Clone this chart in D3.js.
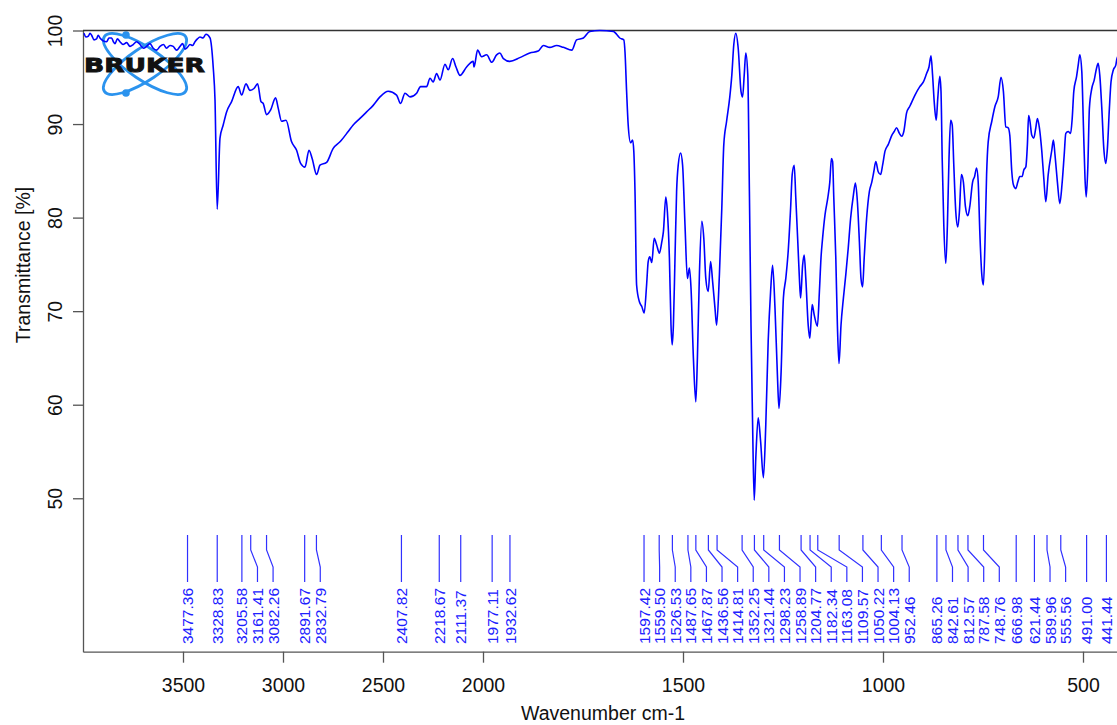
<!DOCTYPE html>
<html>
<head>
<meta charset="utf-8">
<script src="https://cdn.jsdelivr.net/npm/d3@7"></script>
<style>
body { margin: 0; background: #fff; }
svg { display: block; font-family: "Liberation Sans", Arial, sans-serif; }
</style>
</head>
<body>
<div id="content"></div>
<script>
const width = 1117;
const height = 725;

// spectrum: wavenumber (cm-1) and transmittance (%)
const wavenumber = [
  3995, 3985, 3973, 3965, 3957, 3945, 3932, 3924, 3915, 3900, 3882, 3870, 3857, 3848, 3840, 3828,
  3815, 3800, 3782, 3765, 3749, 3732, 3715, 3698, 3682, 3665, 3649, 3632, 3615, 3598, 3582, 3565,
  3549, 3532, 3515, 3502, 3490, 3478, 3465, 3452, 3440, 3428, 3415, 3400, 3385, 3365, 3349, 3340,
  3329, 3315, 3299, 3282, 3257, 3224,
  3207, 3185, 3165, 3145, 3127, 3110, 3099, 3082, 3062, 3037, 3024, 3007, 2985, 2957, 2932, 2912,
  2890, 2870, 2854, 2832, 2815, 2782, 2749, 2715, 2674, 2649, 2615, 2582, 2549, 2515, 2474, 2432,
  2412, 2390, 2365, 2332, 2312, 2282, 2265, 2249, 2232, 2215, 2190, 2174, 2152, 2135, 2115, 2082,
  2049, 2045, 2027, 2007, 1991, 1978, 1966, 1958, 1949, 1933, 1908, 1883, 1862, 1849, 1833, 1816,
  1799, 1778, 1766, 1749, 1733, 1708, 1674, 1666, 1658, 1648, 1645, 1641, 1637, 1631, 1626, 1623,
  1620, 1616, 1609, 1603, 1597, 1591, 1587, 1583, 1578, 1572, 1566, 1559, 1553, 1549, 1543, 1539,
  1534, 1530, 1527, 1524, 1520, 1516, 1512, 1506, 1501, 1495, 1489, 1484, 1480, 1474, 1468, 1464,
  1459, 1453, 1448, 1443, 1437, 1431, 1426, 1420, 1416, 1409, 1403, 1398, 1391, 1383, 1378, 1373,
  1368, 1362, 1355, 1351, 1347, 1343, 1338, 1334, 1330, 1326, 1322, 1318, 1312, 1306, 1299, 1293,
  1287, 1281, 1276, 1270, 1264, 1260, 1255, 1249, 1243, 1237, 1231, 1227, 1222, 1218, 1213, 1209,
  1206, 1201, 1197, 1193, 1187, 1183, 1177, 1172, 1164, 1159, 1155, 1151, 1145, 1138, 1133, 1129,
  1126, 1123, 1118, 1114, 1110, 1105, 1099, 1093, 1087, 1081, 1074, 1069, 1064, 1059, 1055, 1051,
  1047, 1041, 1034, 1028, 1023, 1018, 1012, 1006, 1001, 995, 987, 978, 972, 966, 959, 953,
  948, 941, 933, 920, 908, 899, 891, 885, 880, 876, 872, 867, 863, 858, 855, 852,
  848, 843, 839, 835, 831, 827, 823, 818, 813, 809, 804, 799, 794, 788, 783, 776,
  771, 766, 762, 758, 753, 749, 745, 741, 737, 728, 720, 712, 705, 699, 693, 687,
  683, 678, 674, 668, 663, 658, 652, 648, 643, 639, 636, 633, 628, 623, 618, 614,
  609, 603, 598, 593, 587, 578, 574, 570, 564, 558, 552, 547, 543, 537, 531, 527,
  523, 516, 512, 508, 503, 499, 495, 492, 488, 484, 478, 472, 466, 462, 458, 453,
  448, 443, 439, 434, 430, 424, 418, 415, 400
];
const transmittance = [
  99.7, 99.3, 99.4, 99.7, 99.5, 99.0, 99.1, 99.5, 99.2, 98.9, 98.8, 99.2, 99.2, 98.8, 98.6, 99.1,
  98.8, 98.5, 98.7, 98.3, 98.5, 98.8, 98.5, 98.1, 98.3, 98.6, 98.1, 97.9, 98.3, 98.5, 98.1, 98.4,
  98.3, 97.9, 98.3, 98.6, 98.0, 98.2, 98.5, 98.4, 98.8, 99.1, 99.3, 99.2, 99.6, 99.2, 96.1, 92.6,
  80.9, 88.5, 89.9, 91.3, 92.4, 94.0,
  93.1, 94.3, 93.6, 93.8, 94.3, 92.4, 92.2, 91.0, 91.5, 92.8, 91.7, 90.3, 90.4, 88.1, 87.2, 85.8,
  85.4, 87.2, 86.3, 84.6, 85.6, 85.9, 87.4, 88.1, 89.2, 89.9, 90.6, 91.3, 92.0, 92.9, 93.5, 93.1,
  92.2, 93.3, 92.9, 93.3, 94.0, 94.0, 94.9, 94.5, 95.4, 94.7, 96.4, 95.8, 97.0, 96.1, 95.2, 96.1,
  96.7, 96.1, 97.9, 97.2, 97.4, 96.6, 97.4, 97.6, 97.0, 96.7, 97.1, 97.6, 97.8, 98.4, 98.2, 98.4,
  98.2, 97.9, 99.0, 99.2, 99.9, 100.0, 99.9, 99.6, 99.2, 99.0, 97.7, 93.5, 89.9, 88.0, 88.3, 87.1,
  82.8, 72.8, 71.0, 70.5, 69.8, 72.8, 75.3, 75.8, 75.2, 77.8, 77.1, 76.2, 77.4, 78.5, 82.2, 80.6,
  75.7, 68.5, 66.4, 68.5, 75.7, 82.8, 85.6, 86.9, 85.6, 79.2, 73.5, 74.6, 72.5, 65.0, 60.3, 65.0,
  73.9, 79.6, 77.8, 73.5, 72.1, 75.3, 73.2, 70.3, 68.5, 73.9, 81.0, 87.8, 90.3, 92.9, 95.2, 98.5,
  99.7, 98.1, 93.5, 92.9, 95.2, 97.6, 95.2, 82.8, 68.5, 57.9, 49.8, 54.3, 58.6, 56.1, 52.2, 57.9,
  66.8, 72.1, 74.9, 70.3, 63.2, 59.6, 63.2, 71.4, 73.5, 76.4, 81.0, 84.6, 85.6, 82.1, 77.4, 73.5,
  71.4, 74.9, 76.0, 73.5, 68.5, 67.1, 70.7, 69.6, 68.4, 72.1, 75.7, 77.8, 80.3, 82.1, 83.8, 86.3,
  86.0, 82.1, 75.7, 68.5, 64.4, 68.5, 71.4, 73.9, 76.7, 79.9, 82.4, 83.7, 81.7, 77.4, 73.5, 72.6,
  75.7, 79.9, 82.8, 83.8, 84.9, 86.0, 84.9, 84.6, 85.6, 87.1, 87.8, 88.8, 89.2, 89.6, 89.0, 88.7,
  89.2, 91.2, 91.9, 93.1, 94.0, 94.5, 95.4, 96.1, 97.3, 95.2, 92.4, 90.4, 92.8, 95.1, 93.5, 86.3,
  79.2, 75.1, 79.2, 86.3, 90.4, 89.9, 85.6, 80.6, 79.0, 80.6, 84.6, 83.8, 81.2, 80.2, 81.2, 83.8,
  84.4, 85.3, 83.8, 78.5, 73.9, 72.8, 77.4, 84.6, 88.1, 90.3, 91.9, 92.9, 95.0, 93.5, 89.7, 89.6,
  88.8, 84.9, 83.5, 83.1, 83.8, 84.4, 84.4, 85.1, 85.4, 87.8, 90.9, 90.4, 88.8, 88.5, 89.6, 90.6,
  89.6, 87.1, 84.2, 81.7, 84.6, 87.2, 88.3, 86.7, 83.8, 81.5, 83.8, 86.7, 89.0, 89.2, 89.0, 90.6,
  93.5, 95.1, 96.3, 97.4, 95.6, 89.9, 84.2, 82.2, 85.3, 91.7, 93.8, 94.7, 96.0, 96.5, 95.2, 91.7,
  87.4, 85.8, 87.4, 91.7, 94.5, 95.8, 96.3, 97.0, 98.0
];

// picked peaks
const peaks = [
  3477.36, 3328.83, 3205.58, 3161.41, 3082.26, 2891.67, 2832.79, 2407.82, 2218.67, 2111.37,
  1977.11, 1932.62, 1597.42, 1559.50, 1526.53, 1487.65, 1467.87, 1436.56, 1414.81, 1352.25,
  1321.44, 1298.23, 1258.89, 1204.77, 1182.34, 1163.08, 1109.57, 1050.22, 1004.13, 952.46,
  865.26, 842.61, 812.57, 787.58, 748.76, 666.98, 621.44, 589.96, 555.56, 491.00, 441.44
];

const xTicks = [3500, 3000, 2500, 2000, 1500, 1000, 500];
const yTicks = [50, 60, 70, 80, 90, 100];

const spectrum = wavenumber.map((w, i) => ({w: w, t: transmittance[i]}));

var svg = d3.select("#content").append("svg")
    .attr("width", width)
    .attr("height", height);

// OPUS style axis: scale doubles below 2000 cm-1
var x = d3.scaleLinear().domain([4000, 2000, 400]).range([83, 483, 1123]);
var y = d3.scaleLinear().domain([33.6, 100]).range([651.7, 30.5]);

// Bruker logo
var logo = svg.append("g").attr("transform", "translate(145,64)");
[-34, 34].forEach(a => {
    logo.append("ellipse")
        .attr("rx", 49).attr("ry", 16)
        .attr("transform", `rotate(${a})`)
        .attr("fill", "none")
        .attr("stroke", "#2b93ee")
        .attr("stroke-width", 2.8);
});
[[-19, -29], [-19, 29]].forEach(p => {
    logo.append("circle").attr("cx", p[0]).attr("cy", p[1]).attr("r", 3.8).attr("fill", "#2b93ee");
});
logo.append("text")
    .attr("x", -61).attr("y", 7.5)
    .attr("textLength", 121).attr("lengthAdjust", "spacingAndGlyphs")
    .attr("font-family", "DejaVu Sans")
    .attr("font-weight", "bold")
    .attr("font-size", 20)
    .attr("fill", "#111")
    .attr("stroke", "#111")
    .attr("stroke-width", 0.9)
    .text("BRUKER");

// axes
var xAxis = svg.append("g")
    .attr("transform", `translate(0, ${y.range()[0]})`)
    .call(d3.axisBottom(x).tickValues(xTicks).tickSize(11).tickSizeOuter(0).tickFormat(d3.format("d")));
xAxis.selectAll("text").attr("y", 40).attr("dy", 0).attr("font-size", 19.5).attr("fill", "#111");

var yAxis = svg.append("g")
    .attr("transform", `translate(${x.range()[0]},0)`)
    .call(d3.axisLeft(y).tickValues(yTicks).tickSize(10).tickSizeOuter(0));
yAxis.selectAll("text")
    .attr("x", null).attr("dy", 0)
    .attr("transform", "translate(-21,0) rotate(-90)")
    .attr("text-anchor", "middle")
    .attr("font-size", 19.5).attr("fill", "#111");

svg.selectAll(".domain, .tick line").attr("stroke", "#555").attr("stroke-width", 1.3);

// top frame line
svg.append("line")
    .attr("x1", x.range()[0]).attr("x2", width + 10)
    .attr("y1", y(100)).attr("y2", y(100))
    .attr("stroke", "#333").attr("stroke-width", 1.3);

// labels
svg.append("text").text("Transmittance [%]")
    .attr("transform", "translate(30,265) rotate(-90)")
    .attr("text-anchor", "middle")
    .attr("font-size", 19.5).attr("fill", "#111");

svg.append("text").text("Wavenumber cm-1")
    .attr("x", 603).attr("y", 720)
    .attr("text-anchor", "middle")
    .attr("font-size", 19.5).attr("fill", "#111");

// spectrum
var line = d3.line()
    .x(d => x(d.w))
    .y(d => y(d.t))
    .curve(d3.curveMonotoneX);

svg.append("path")
    .datum(spectrum)
    .attr("d", line)
    .attr("fill", "none")
    .attr("stroke", "#0000ff")
    .attr("stroke-width", 1.6);

// peak labels, spread left to right so they do not overlap
const minGap = 15.6;
var prev = -Infinity;
var labelX = peaks.map(p => {
    var lx = Math.max(x(p), prev + minGap);
    prev = lx;
    return lx;
});

var pk = svg.append("g").attr("class", "peaks");
peaks.forEach((p, i) => {
    var px = x(p), lx = labelX[i];
    pk.append("path")
        .attr("d", `M${px},535V550L${lx},567V582`)
        .attr("fill", "none")
        .attr("stroke", "#3030ff")
        .attr("stroke-width", 1.2);
    pk.append("text")
        .attr("transform", `translate(${lx},644) rotate(-90)`)
        .attr("dy", "0.36em")
        .attr("font-size", 15.5)
        .attr("fill", "#2020ff")
        .text(p.toFixed(2));
});
</script>
</body>
</html>
